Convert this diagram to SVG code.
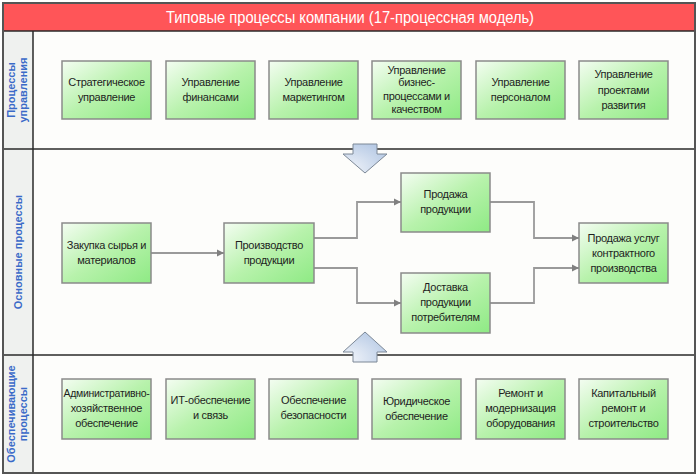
<svg xmlns="http://www.w3.org/2000/svg" width="699" height="476" viewBox="0 0 699 476">
<defs>
<linearGradient id="gBox" x1="0" y1="0" x2="1" y2="1">
<stop offset="0" stop-color="#f4fdf2"/>
<stop offset="0.5" stop-color="#b8f2ac"/>
<stop offset="1" stop-color="#8eea84"/>
</linearGradient>
<radialGradient id="gArr" cx="0.1" cy="0.9" r="1.1">
<stop offset="0" stop-color="#f2f5fa"/>
<stop offset="1" stop-color="#b4c8e4"/>
</radialGradient>
<marker id="ah" markerWidth="8" markerHeight="8" refX="7" refY="4" orient="auto" markerUnits="userSpaceOnUse">
<path d="M0,0.5 L7,4 L0,7.5 z" fill="#808080"/>
</marker>
<style>
.box{fill:url(#gBox);stroke:#8a8a8a;stroke-width:1.5}
.t{font-family:"Liberation Sans",Arial,sans-serif;font-size:11px;fill:#1e1e1e;text-anchor:middle;letter-spacing:-0.3px}
.lane{font-family:"Liberation Sans",Arial,sans-serif;font-size:11px;font-weight:bold;fill:#3a6ac8;text-anchor:middle}
.con{fill:none;stroke:#9a9a9a;stroke-width:1.8;marker-end:url(#ah)}
.sep{stroke:#2a2a2a;stroke-width:1.5}
.blk{fill:url(#gArr);stroke:#7c8896;stroke-width:1}
</style>
</defs>
<rect x="0" y="0" width="699" height="476" fill="#ffffff"/>
<g id="frame">
<rect x="3" y="31" width="692" height="442" fill="#fdfdfb"/>
<rect x="3" y="31" width="30" height="442" fill="#eff1ef"/>
<rect x="3" y="3" width="692" height="28" fill="#ff5558"/>
<line class="sep" x1="3" y1="31" x2="695" y2="31"/>
<line class="sep" x1="3" y1="149" x2="695" y2="149"/>
<line class="sep" x1="3" y1="355" x2="695" y2="355"/>
<line class="sep" x1="33" y1="31" x2="33" y2="473"/>
<rect x="3" y="3" width="692" height="470" fill="none" stroke="#555" stroke-width="2"/>
<text x="350" y="23" font-family="'Liberation Sans',Arial,sans-serif" font-size="16" fill="#ffffff" text-anchor="middle" textLength="368" lengthAdjust="spacingAndGlyphs">Типовые процессы компании (17-процессная модель)</text>
</g>
<g id="lane-labels">
<text class="lane" transform="translate(15,90) rotate(-90)"><tspan x="0" y="0">Процессы</tspan><tspan x="0" y="12">управления</tspan></text>
<text class="lane" transform="translate(22,252) rotate(-90)">Основные процессы</text>
<text class="lane" transform="translate(15,414) rotate(-90)"><tspan x="0" y="0">Обеспечивающие</tspan><tspan x="0" y="12">процессы</tspan></text>
</g>
<g id="connectors">
<path class="con" d="M151,253 H224"/>
<path class="con" d="M314,238 H357 V202 H401"/>
<path class="con" d="M314,268 H357 V303 H401"/>
<path class="con" d="M490,202 H534 V238 H579"/>
<path class="con" d="M490,303 H534 V268 H579"/>
<path class="blk" d="M353,144 H377 V154 H387 L365,173 L343,154 H353 Z"/>
<path class="blk" d="M353,362 H377 V352 H387 L365,332 L343,352 H353 Z"/>
</g>
<g id="n1"><rect class="box" x="62" y="61" width="89" height="58"/><text class="t"><tspan x="106.5" y="86">Стратегическое</tspan><tspan x="106.5" y="101">управление</tspan></text></g>
<g id="n2"><rect class="box" x="166" y="61" width="89" height="58"/><text class="t"><tspan x="210.5" y="86">Управление</tspan><tspan x="210.5" y="101">финансами</tspan></text></g>
<g id="n3"><rect class="box" x="269" y="61" width="89" height="58"/><text class="t"><tspan x="313.5" y="86">Управление</tspan><tspan x="313.5" y="101">маркетингом</tspan></text></g>
<g id="n4"><rect class="box" x="372" y="61" width="89" height="58"/><text class="t"><tspan x="416.5" y="74">Управление</tspan><tspan x="416.5" y="86">бизнес-</tspan><tspan x="416.5" y="100">процессами и</tspan><tspan x="416.5" y="113">качеством</tspan></text></g>
<g id="n5"><rect class="box" x="476" y="61" width="89" height="58"/><text class="t"><tspan x="520.5" y="86">Управление</tspan><tspan x="520.5" y="101">персоналом</tspan></text></g>
<g id="n6"><rect class="box" x="579" y="61" width="89" height="58"/><text class="t"><tspan x="623.5" y="78">Управление</tspan><tspan x="623.5" y="94">проектами</tspan><tspan x="623.5" y="109">развития</tspan></text></g>
<g id="n7"><rect class="box" x="62" y="223" width="89" height="60"/><text class="t"><tspan x="106.5" y="249">Закупка сырья и</tspan><tspan x="106.5" y="264">материалов</tspan></text></g>
<g id="n8"><rect class="box" x="224" y="223" width="90" height="60"/><text class="t"><tspan x="269" y="249">Производство</tspan><tspan x="269" y="264">продукции</tspan></text></g>
<g id="n9"><rect class="box" x="401" y="173" width="89" height="59"/><text class="t"><tspan x="445.5" y="198">Продажа</tspan><tspan x="445.5" y="213">продукции</tspan></text></g>
<g id="n10"><rect class="box" x="401" y="273" width="89" height="60"/><text class="t"><tspan x="445.5" y="291">Доставка</tspan><tspan x="445.5" y="306">продукции</tspan><tspan x="445.5" y="321">потребителям</tspan></text></g>
<g id="n11"><rect class="box" x="579" y="223" width="89" height="60"/><text class="t"><tspan x="623.5" y="242">Продажа услуг</tspan><tspan x="623.5" y="257">контрактного</tspan><tspan x="623.5" y="272">производства</tspan></text></g>
<g id="n12"><rect class="box" x="62" y="379" width="89" height="60"/><text class="t"><tspan x="106.5" y="397" textLength="86" lengthAdjust="spacingAndGlyphs">Административно-</tspan><tspan x="106.5" y="412">хозяйственное</tspan><tspan x="106.5" y="427">обеспечение</tspan></text></g>
<g id="n13"><rect class="box" x="166" y="379" width="89" height="60"/><text class="t"><tspan x="210.5" y="404">ИТ-обеспечение</tspan><tspan x="210.5" y="419">и связь</tspan></text></g>
<g id="n14"><rect class="box" x="269" y="379" width="89" height="60"/><text class="t"><tspan x="313.5" y="404">Обеспечение</tspan><tspan x="313.5" y="419">безопасности</tspan></text></g>
<g id="n15"><rect class="box" x="372" y="379" width="89" height="60"/><text class="t"><tspan x="416.5" y="405">Юридическое</tspan><tspan x="416.5" y="420">обеспечение</tspan></text></g>
<g id="n16"><rect class="box" x="476" y="379" width="89" height="60"/><text class="t"><tspan x="520.5" y="397">Ремонт и</tspan><tspan x="520.5" y="412">модернизация</tspan><tspan x="520.5" y="427">оборудования</tspan></text></g>
<g id="n17"><rect class="box" x="579" y="379" width="89" height="60"/><text class="t"><tspan x="623.5" y="397">Капитальный</tspan><tspan x="623.5" y="412">ремонт и</tspan><tspan x="623.5" y="427">строительство</tspan></text></g>
</svg>
